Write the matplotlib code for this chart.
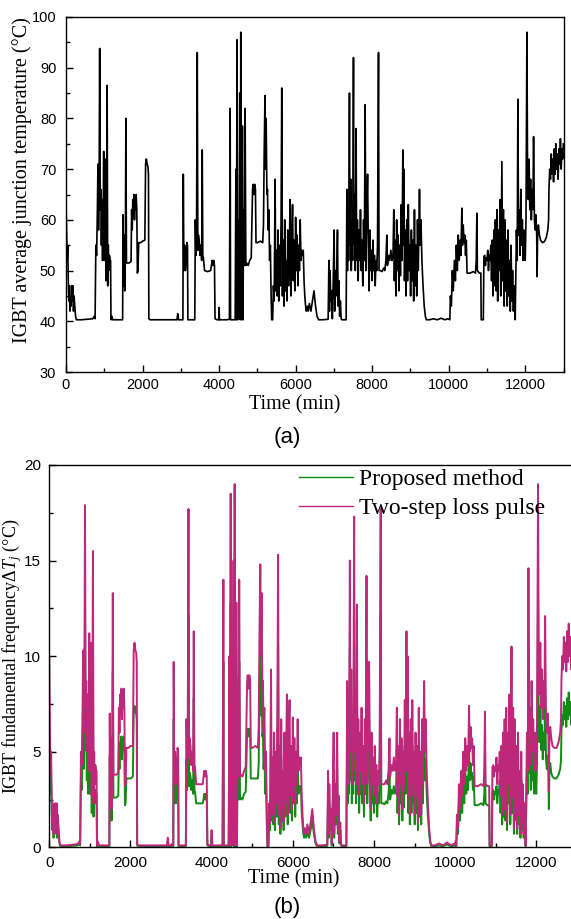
import matplotlib.pyplot as plt
from matplotlib.ticker import MultipleLocator

# mission profile (one row per stretch of the record)
time_min = [
    0, 15, 30, 45, 60, 75, 90, 105, 120, 135, 150, 165, 180, 195, 210, 230, 250, 270,
    400, 550, 700, 740, 760,
    780, 800, 820, 835, 850, 865, 880, 895, 910, 925, 940, 955, 970, 985, 1000, 1015, 1030, 1045, 1060, 1075, 1090, 1105, 1120, 1135, 1150, 1165, 1175,
    1200, 1220, 1350, 1480,
    1490, 1505, 1520, 1535, 1550, 1565, 1580, 1650, 1700, 1715, 1730, 1745, 1760, 1775, 1790, 1805, 1820, 1835, 1850, 1865, 1880, 1900, 1950, 2000, 2060, 2080, 2100, 2120, 2140, 2155, 2165,
    2200, 2500, 2900, 2920, 2940, 3055,
    3065, 3080, 3100, 3120, 3140, 3160, 3175, 3185,
    3300, 3365,
    3380, 3395, 3410, 3430, 3445, 3460, 3480, 3500, 3520, 3545, 3560, 3575, 3590, 3620, 3700, 3780, 3800, 3820, 3840, 3860, 3880, 3895,
    3950, 3990, 4000, 4010, 4200, 4270,
    4290, 4300, 4420, 4440, 4450, 4470, 4480, 4500, 4515, 4540, 4555, 4567, 4580, 4595, 4610, 4625, 4640, 4660, 4680, 4700,
    4720, 4760, 4800, 4840, 4860, 4875, 4890, 4910, 4930, 4950, 4965, 5000, 5080, 5140, 5160, 5180, 5200, 5215, 5230, 5250, 5265, 5280, 5300, 5320, 5340, 5360, 5375, 5400,
    5420, 5440, 5464, 5480, 5500, 5520, 5540, 5560, 5580, 5600, 5620, 5638, 5655, 5675, 5695, 5715, 5735, 5755, 5775, 5795,
    5815, 5835, 5856, 5875, 5895, 5920, 5940, 5960, 5980, 6000, 6020, 6040, 6060, 6080, 6100, 6120, 6140, 6160, 6180, 6200,
    6220, 6240, 6260, 6280, 6300,
    6330, 6360, 6400, 6440, 6480, 6520, 6560, 6600, 6700, 6850,
    6870, 6885, 6900, 6920, 6940, 6960, 6980, 7007, 7020, 7040, 7060, 7080, 7094, 7110, 7130, 7150, 7170, 7190, 7210, 7320,
    7340, 7355, 7370, 7385, 7407, 7420, 7440, 7455, 7470, 7490, 7512, 7525, 7545, 7560, 7580, 7595, 7615, 7635, 7655, 7675,
    7695, 7715, 7735, 7755, 7775, 7795, 7817, 7835, 7855, 7880, 7900, 7920, 7940, 7960, 7980, 8000, 8020, 8040, 8060, 8080,
    8100, 8120, 8140, 8166, 8180, 8220, 8260, 8300, 8330, 8360, 8383, 8400, 8430, 8460, 8490, 8520, 8545, 8565, 8580, 8600,
    8620, 8640, 8660, 8680, 8700, 8720, 8740, 8760, 8780, 8802, 8815, 8830, 8845, 8865, 8885, 8905, 8925, 8945, 8965, 8985,
    9005, 9025, 9045, 9065, 9085, 9105, 9125, 9145, 9165, 9185, 9205, 9237, 9255, 9275, 9300, 9330, 9360, 9390, 9415,
    9500, 9600, 9700, 9800, 9900, 9980, 10030,
    10045, 10070, 10095, 10120, 10150, 10175, 10200, 10225, 10250, 10275, 10300, 10320, 10344, 10360, 10380, 10400, 10420, 10440, 10460, 10480,
    10560, 10640, 10700, 10720, 10736, 10750, 10800, 10840, 10850, 10905, 10920,
    10940, 10960, 10980, 11000, 11020, 11040, 11060, 11080, 11100, 11120, 11140, 11160, 11180, 11200, 11220, 11240, 11260, 11280, 11300, 11320,
    11340, 11360, 11390, 11410, 11430, 11450, 11470, 11490, 11510, 11530, 11550, 11570, 11590, 11610, 11630, 11650, 11670, 11690, 11710, 11738,
    11755, 11770, 11790, 11808, 11825, 11845, 11865, 11885, 11905, 11925, 11945, 11965, 11985, 12000, 12020, 12044, 12060, 12080, 12100, 12120,
    12140, 12160, 12180, 12200, 12218, 12240, 12260, 12280, 12300, 12310, 12325, 12345,
    12370, 12400, 12450, 12500, 12550, 12590, 12610, 12620, 12640, 12660, 12680, 12700, 12720, 12740, 12760, 12780, 12800, 12820, 12840, 12860,
    12880, 12900, 12920, 12940, 12960, 12980, 12995,
]

# (a) IGBT average junction temperature, degC
tj_avg = [
    64, 58, 52, 55, 48, 44, 47, 42, 45, 43, 47, 44, 47, 42, 45, 43, 41, 40.3,
    40.3, 40.4, 40.5, 41, 40.5,
    55, 53, 62, 71, 58, 66, 93.8, 62, 66, 55, 64, 52, 60, 73.5, 52, 62, 72, 48, 58, 86.5, 47, 55, 50, 53, 52, 52, 40.3,
    41, 40.3, 40.3, 40.3,
    61, 47, 57, 46, 52, 80, 51.5, 51.5, 51.8, 62, 58, 64, 61, 65, 60, 64, 62, 65, 62, 49.5, 50, 55.5, 55.5, 55.8, 56, 71, 72, 71, 70.5, 69, 40.5,
    40.3, 40.3, 40.3, 41.5, 40.3, 40.3,
    69, 50, 55, 50, 52, 55.5, 55, 40.3,
    40.3, 40.3,
    60, 53, 56, 93, 54, 57, 56, 53, 55, 52, 73.8, 53, 52.5, 50, 49.8, 50, 51, 52, 51, 52, 51, 40.5,
    40.3, 40.3, 42.7, 40.3, 40.3, 40.4,
    82, 40.3, 40.3, 70, 40.3, 95.5, 40.3, 60, 40.5, 85, 40.3, 97, 50, 40.3, 78.5, 40.3, 62, 51, 82, 51,
    51.5, 51, 52, 52.5, 60, 66, 67, 65, 67, 66, 55.5, 55.5, 55.8, 55.5, 59, 74, 84.5, 70, 80, 65, 66, 58, 62, 52, 55, 45, 40.3, 40.3,
    47, 44, 68, 46, 54, 45, 58, 44, 55, 47, 60, 86, 45, 56, 43, 60, 46, 52, 44, 58,
    47, 54, 64, 45, 55, 63, 48, 56, 46, 60.5, 50, 57, 47, 55, 50, 60, 52, 54, 53, 54,
    48, 45, 43, 42, 43,
    42, 43.5, 42, 44, 46, 43, 41, 40.3, 40.3, 40.4,
    52, 42, 50, 44, 46, 40.5, 47, 58, 42, 50, 45, 52, 58, 43, 48, 41, 44, 40.5, 40.3, 40.3,
    66, 50, 62, 52, 85, 55, 68, 50, 60, 52, 92, 55, 65, 50, 78, 52, 60, 48, 58, 52,
    62, 50, 56, 47, 60, 52, 82.7, 50, 60, 69, 55, 46, 58, 50, 54, 48, 56, 50, 53, 47,
    52, 50, 55, 93, 50, 50, 49.8, 50.5, 50, 52, 57, 51, 53, 52, 54, 52, 53, 62, 48, 56,
    45, 60, 50, 57, 46, 55, 49, 63, 52, 73.8, 55, 70, 48, 58, 45, 60, 48, 63, 50, 55,
    45, 58, 48, 56, 44, 62, 47, 55, 45, 60, 50, 66, 55, 60, 52, 47, 43, 41, 40.3,
    40.3, 40.5, 40.3, 40.6, 40.3, 40.5, 40.3,
    45, 43, 50, 46, 52, 48, 55, 50, 57, 52, 56, 53, 62.3, 55, 59, 55.5, 57, 53, 56, 49.5,
    49.5, 49.8, 49.5, 52, 61.3, 50, 49.5, 49.5, 40.3, 40.3, 52.7,
    53, 51, 52.5, 52, 54, 50, 53, 52, 55, 48, 56, 45, 58, 47, 60, 46, 62, 44, 58, 50,
    64, 45, 71.5, 48, 62, 43, 60, 46, 56, 43, 58, 45, 52, 42, 55, 44, 50, 42, 47, 40.3,
    50, 58, 52, 83.8, 57, 62, 53, 66, 55, 60, 52, 58, 55, 52, 60, 97, 70, 64, 72, 62,
    68, 60, 66, 62, 76.4, 60, 58, 61, 57, 48.8, 58, 59,
    57, 56, 55.5, 55.7, 56.5, 58, 60, 66, 70, 68, 73, 69, 72, 67.5, 74, 69, 75, 70, 73, 68,
    74, 71, 76, 70, 74, 72, 75,
]

# (b) fundamental-frequency junction temperature swing, degC
dtj_two_step = [
    10.0, 6.0, 4.0, 5.0, 2.7, 1.3, 2.3, 0.7, 1.7, 1.0, 2.3, 1.3, 2.3, 0.7, 1.7, 1.0, 0.3, 0.1,
    0.1, 0.13, 0.17, 0.3, 0.17,
    5.0, 4.3, 7.3, 10.3, 6.0, 8.7, 17.9, 7.3, 8.7, 5.0, 8.0, 4.0, 6.7, 11.2, 4.0, 7.3, 10.7, 2.7, 6.0, 15.5, 2.3, 5.0, 3.3, 4.3, 4.0, 4.0, 0.1,
    0.3, 0.1, 0.1, 0.1,
    7.0, 2.3, 5.7, 2.0, 4.0, 13.3, 3.8, 3.8, 3.9, 7.3, 6.0, 8.0, 7.0, 8.3, 6.7, 8.0, 7.3, 8.3, 7.3, 3.2, 3.3, 5.2, 5.2, 5.3, 5.3, 10.3, 10.7, 10.3, 10.2, 9.7, 0.17,
    0.1, 0.1, 0.1, 0.5, 0.1, 0.1,
    9.7, 3.3, 5.0, 3.3, 4.0, 5.2, 5.0, 0.1,
    0.1, 0.1,
    6.7, 4.3, 5.3, 17.7, 4.7, 5.7, 5.3, 4.3, 5.0, 4.0, 11.3, 4.3, 4.2, 3.3, 3.3, 3.3, 3.7, 4.0, 3.7, 4.0, 3.7, 0.17,
    0.1, 0.1, 0.9, 0.1, 0.1, 0.13,
    14.0, 0.1, 0.1, 10.0, 0.1, 18.5, 0.1, 6.7, 0.17, 15.0, 0.1, 19.0, 3.3, 0.1, 12.8, 0.1, 7.3, 3.7, 14.0, 3.7,
    3.8, 3.7, 4.0, 4.2, 6.7, 8.7, 9.0, 8.3, 9.0, 8.7, 5.2, 5.2, 5.3, 5.2, 6.3, 11.3, 14.8, 10.0, 13.3, 8.3, 8.7, 6.0, 7.3, 4.0, 5.0, 1.7, 0.1, 0.1,
    2.3, 1.3, 9.3, 2.0, 4.7, 1.7, 6.0, 1.3, 5.0, 2.3, 6.7, 15.3, 1.7, 5.3, 1.0, 6.7, 2.0, 4.0, 1.3, 6.0,
    2.3, 4.7, 8.0, 1.7, 5.0, 7.7, 2.7, 5.3, 2.0, 6.8, 3.3, 5.7, 2.3, 5.0, 3.3, 6.7, 4.0, 4.7, 4.3, 4.7,
    2.7, 1.7, 1.0, 0.7, 1.0,
    0.7, 1.2, 0.7, 1.3, 2.0, 1.0, 0.3, 0.1, 0.1, 0.13,
    4.0, 0.7, 3.3, 1.3, 2.0, 0.17, 2.3, 6.0, 0.7, 3.3, 1.7, 4.0, 6.0, 1.0, 2.7, 0.3, 1.3, 0.17, 0.1, 0.1,
    8.7, 3.3, 7.3, 4.0, 15.0, 5.0, 9.3, 3.3, 6.7, 4.0, 17.3, 5.0, 8.3, 3.3, 12.7, 4.0, 6.7, 2.7, 6.0, 4.0,
    7.3, 3.3, 5.3, 2.3, 6.7, 4.0, 14.2, 3.3, 6.7, 9.7, 5.0, 2.0, 6.0, 3.3, 4.7, 2.7, 5.3, 3.3, 4.3, 2.3,
    4.0, 3.3, 5.0, 17.7, 3.3, 3.3, 3.3, 3.5, 3.3, 4.0, 5.7, 3.7, 4.3, 4.0, 4.7, 4.0, 4.3, 7.3, 2.7, 5.3,
    1.7, 6.7, 3.3, 5.7, 2.0, 5.0, 3.0, 7.7, 4.0, 11.3, 5.0, 10.0, 2.7, 6.0, 1.7, 6.7, 2.7, 7.7, 3.3, 5.0,
    1.7, 6.0, 2.7, 5.3, 1.3, 7.3, 2.3, 5.0, 1.7, 6.7, 3.3, 8.7, 5.0, 6.7, 4.0, 2.3, 1.0, 0.3, 0.1,
    0.1, 0.2, 0.1, 0.25, 0.1, 0.2, 0.1,
    1.7, 1.0, 3.3, 2.0, 4.0, 2.7, 5.0, 3.3, 5.7, 4.0, 5.3, 4.3, 7.4, 5.0, 6.3, 5.2, 5.7, 4.3, 5.3, 3.2,
    3.2, 3.3, 3.2, 4.0, 7.1, 3.3, 3.2, 3.2, 0.1, 0.1, 4.2,
    4.3, 3.7, 4.2, 4.0, 4.7, 3.3, 4.3, 4.0, 5.0, 2.7, 5.3, 1.7, 6.0, 2.3, 6.7, 2.0, 7.3, 1.3, 6.0, 3.3,
    8.0, 1.7, 10.5, 2.7, 7.3, 1.0, 6.7, 2.0, 5.3, 1.0, 6.0, 1.7, 4.0, 0.7, 5.0, 1.3, 3.3, 0.7, 2.3, 0.1,
    3.3, 6.0, 4.0, 14.6, 5.7, 7.3, 4.3, 8.7, 5.0, 6.7, 4.0, 6.0, 5.0, 4.0, 6.7, 19.0, 10.0, 8.0, 10.7, 7.3,
    9.3, 6.7, 8.7, 7.3, 12.1, 6.7, 6.0, 7.0, 5.7, 2.9, 6.0, 6.3,
    5.7, 5.3, 5.2, 5.2, 5.5, 6.0, 6.7, 8.7, 10.0, 9.3, 11.0, 9.7, 10.7, 9.2, 11.3, 9.7, 11.7, 10.0, 11.0, 9.3,
    11.3, 10.3, 12.0, 10.0, 11.3, 10.7, 11.7,
]

dtj_proposed = [
    4.0, 4.1, 2.8, 3.4, 1.8, 0.9, 1.6, 0.5, 1.2, 0.7, 1.6, 0.9, 1.6, 0.5, 1.2, 0.7, 0.2, 0.05,
    0.05, 0.07, 0.1, 0.2, 0.1,
    3.5, 3.0, 5.1, 7.1, 4.1, 6.0, 12.4, 5.1, 6.0, 3.5, 5.5, 2.8, 4.6, 7.7, 2.8, 5.1, 7.4, 1.8, 4.1, 10.7, 1.6, 3.5, 2.3, 3.0, 2.8, 2.8, 0.05,
    0.2, 0.05, 0.05, 0.05,
    4.8, 1.6, 3.9, 1.4, 2.8, 9.2, 2.6, 2.6, 2.7, 5.1, 4.1, 5.5, 4.8, 5.8, 4.6, 5.5, 5.1, 5.8, 5.1, 2.2, 2.3, 3.6, 3.6, 3.6, 3.7, 7.1, 7.4, 7.1, 7.0, 6.7, 0.1,
    0.05, 0.05, 0.05, 0.3, 0.05, 0.05,
    6.7, 2.3, 3.5, 2.3, 2.8, 3.6, 3.5, 0.05,
    0.05, 0.05,
    4.6, 3.0, 3.7, 12.2, 3.2, 3.9, 3.7, 3.0, 3.5, 2.8, 7.8, 3.0, 2.9, 2.3, 2.3, 2.3, 2.5, 2.8, 2.5, 2.8, 2.5, 0.1,
    0.05, 0.05, 0.6, 0.05, 0.05, 0.07,
    9.7, 0.05, 0.05, 6.9, 0.05, 12.8, 0.05, 4.6, 0.1, 10.4, 0.05, 13.1, 2.3, 0.05, 8.9, 0.05, 5.1, 2.5, 9.7, 2.5,
    2.6, 2.5, 2.8, 2.9, 4.6, 6.0, 6.2, 5.8, 6.2, 6.0, 3.6, 3.6, 3.6, 3.6, 4.4, 7.8, 10.2, 6.9, 9.2, 5.8, 6.0, 4.1, 5.1, 2.8, 3.5, 1.2, 0.05, 0.05,
    1.6, 0.9, 6.4, 1.4, 3.2, 1.2, 4.1, 0.9, 3.5, 1.6, 4.6, 10.6, 1.2, 3.7, 0.7, 4.6, 1.4, 2.8, 0.9, 4.1,
    1.6, 3.2, 5.5, 1.2, 3.5, 5.3, 1.8, 3.7, 1.4, 4.7, 2.3, 3.9, 1.6, 3.5, 2.3, 4.6, 2.8, 3.2, 3.0, 3.2,
    1.8, 1.2, 0.7, 0.5, 0.7,
    0.5, 0.8, 0.5, 0.9, 1.4, 0.7, 0.2, 0.05, 0.05, 0.07,
    2.8, 0.5, 2.3, 0.9, 1.4, 0.1, 1.6, 4.1, 0.5, 2.3, 1.2, 2.8, 4.1, 0.7, 1.8, 0.2, 0.9, 0.1, 0.05, 0.05,
    6.0, 2.3, 5.1, 2.8, 10.4, 3.5, 6.4, 2.3, 4.6, 2.8, 12.0, 3.5, 5.8, 2.3, 8.7, 2.8, 4.6, 1.8, 4.1, 2.8,
    5.1, 2.3, 3.7, 1.6, 4.6, 2.8, 9.8, 2.3, 4.6, 6.7, 3.5, 1.4, 4.1, 2.3, 3.2, 1.8, 3.7, 2.3, 3.0, 1.6,
    2.8, 2.3, 3.5, 12.2, 2.3, 2.3, 2.25, 2.4, 2.3, 2.8, 3.9, 2.5, 3.0, 2.8, 3.2, 2.8, 3.0, 5.1, 1.8, 3.7,
    1.2, 4.6, 2.3, 3.9, 1.4, 3.5, 2.1, 5.3, 2.8, 7.8, 3.5, 6.9, 1.8, 4.1, 1.2, 4.6, 1.8, 5.3, 2.3, 3.5,
    1.2, 4.1, 1.8, 3.7, 0.9, 5.1, 1.6, 3.5, 1.2, 4.6, 2.3, 6.0, 3.5, 4.6, 2.8, 1.6, 0.7, 0.2, 0.05,
    0.05, 0.1, 0.05, 0.15, 0.05, 0.1, 0.05,
    1.2, 0.7, 2.3, 1.4, 2.8, 1.8, 3.5, 2.3, 3.9, 2.8, 3.7, 3.0, 5.1, 3.5, 4.4, 3.6, 3.9, 3.0, 3.7, 2.2,
    2.2, 2.3, 2.2, 2.8, 4.9, 2.3, 2.2, 2.2, 0.05, 0.05, 2.9,
    3.0, 2.5, 2.9, 2.8, 3.2, 2.3, 3.0, 2.8, 3.5, 1.8, 3.7, 1.2, 4.1, 1.6, 4.6, 1.4, 5.1, 0.9, 4.1, 2.3,
    5.5, 1.2, 7.2, 1.8, 5.1, 0.7, 4.6, 1.4, 3.7, 0.7, 4.1, 1.2, 2.8, 0.5, 3.5, 0.9, 2.3, 0.5, 1.6, 0.05,
    2.3, 4.1, 2.8, 10.1, 3.9, 5.1, 3.0, 6.0, 3.5, 4.6, 2.8, 4.1, 3.5, 2.8, 4.6, 13.1, 6.9, 5.5, 7.4, 5.1,
    6.4, 4.6, 6.0, 5.1, 8.4, 4.6, 4.1, 4.8, 3.9, 2.0, 4.1, 4.4,
    3.9, 3.7, 3.6, 3.6, 3.8, 4.1, 4.6, 6.0, 6.9, 6.4, 7.6, 6.7, 7.4, 6.3, 7.8, 6.7, 8.1, 6.9, 7.6, 6.4,
    7.8, 7.1, 8.3, 6.9, 7.8, 7.4, 8.1,
]

assert len(time_min) == len(tj_avg) == len(dtj_two_step) == len(dtj_proposed), \
    (len(time_min), len(tj_avg), len(dtj_two_step), len(dtj_proposed))

plt.rcParams['font.family'] = ['Liberation Sans', 'DejaVu Sans']
plt.rcParams['mathtext.fontset'] = 'custom'
plt.rcParams['mathtext.rm'] = 'Liberation Serif'
plt.rcParams['mathtext.it'] = 'Liberation Serif:italic'
serif = 'Liberation Serif'

W, H = 571, 919
fig = plt.figure(figsize=(W / 100, H / 100), dpi=100)


def style(ax, size, xpad, ypad):
    ax.tick_params(which='both', direction='in', top=False, right=False, labelsize=size, width=1)
    ax.tick_params(which='major', length=5)
    ax.tick_params(which='minor', length=3)
    ax.tick_params(axis='x', pad=xpad)
    ax.tick_params(axis='y', pad=ypad)
    for s in ax.spines.values():
        s.set_linewidth(1.0)


# (a)
ax1 = fig.add_axes([66 / W, 1 - 372 / H, 497.5 / W, 355 / H])
ax1.plot(time_min, tj_avg, color='black', lw=1.2)
ax1.set_xlim(0, 13000)
ax1.set_ylim(30, 100)
ax1.xaxis.set_major_locator(MultipleLocator(2000))
ax1.xaxis.set_minor_locator(MultipleLocator(1000))
ax1.yaxis.set_major_locator(MultipleLocator(10))
ax1.yaxis.set_minor_locator(MultipleLocator(5))
style(ax1, 10.5, 4, 7)
ax1.set_xlabel('Time (min)', family=serif, fontsize=14.5)
ax1.xaxis.set_label_coords(0.46, -0.065)
ax1.set_ylabel('IGBT average junction temperature (°C)', family=serif, fontsize=14.5)
ax1.yaxis.set_label_coords(-0.068, 0.54)
fig.text(287 / W, 1 - 438 / H, '(a)', ha='center', va='center', fontsize=16)

# (b)
ax2 = fig.add_axes([49.3 / W, 1 - 847.3 / H, 524.7 / W, 382.3 / H])
ax2.plot(time_min, dtj_proposed, color='#138A13', lw=1.4, label='Proposed method')
ax2.plot(time_min, dtj_two_step, color='#BE287B', lw=1.4, label='Two-step loss pulse')
ax2.set_xlim(0, 12930)
ax2.set_ylim(0, 20)
ax2.xaxis.set_major_locator(MultipleLocator(2000))
ax2.xaxis.set_minor_locator(MultipleLocator(1000))
ax2.yaxis.set_major_locator(MultipleLocator(5))
ax2.yaxis.set_minor_locator(MultipleLocator(2.5))
style(ax2, 11, 6, 6)
ax2.set_xlabel('Time (min)', family=serif, fontsize=14.5)
ax2.xaxis.set_label_coords(0.466, -0.057)
ax2.set_ylabel(r'IGBT fundamental frequency$\Delta \mathit{T}_{j}$ (°C)', family=serif, fontsize=13)
ax2.yaxis.set_label_coords(-0.048, 0.5)
leg = ax2.legend(loc='upper left', bbox_to_anchor=(0.476, 0.99), frameon=False,
                 prop={'family': serif, 'size': 17}, handlelength=2.3, handletextpad=0.25,
                 labelspacing=0.3, borderpad=0, borderaxespad=0)
for line in leg.get_lines():
    line.set_linewidth(1.0)
fig.text(287 / W, 1 - 907 / H, '(b)', ha='center', va='center', fontsize=16)

fig.savefig('out.png', dpi=100)
